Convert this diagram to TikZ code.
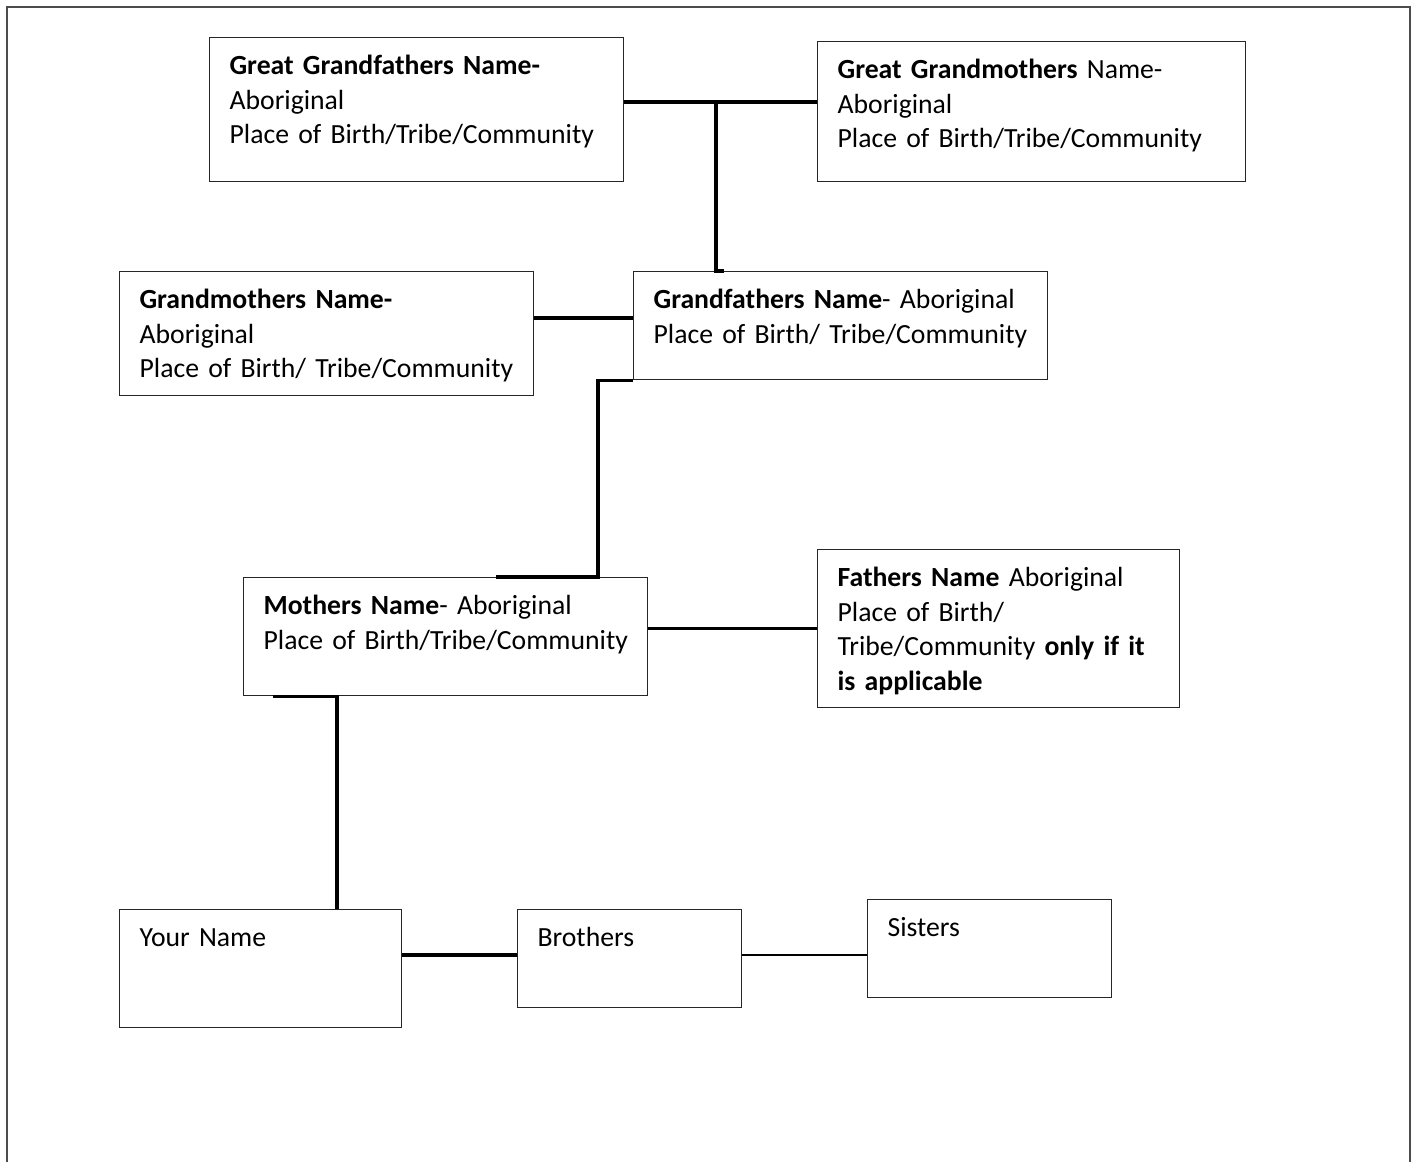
\documentclass[tikz,border=0pt]{standalone}
\usepackage{fontspec}
\setmainfont{Carlito}[WordSpace={1,0,0}]
\begin{document}
\begin{tikzpicture}[x=1pt,y=-1pt,
  member/.style={draw=black!85,line width=1.2pt,anchor=north west,align=left,
    inner xsep=0pt,inner ysep=0pt,text height=37pt,
    execute at begin node={\leftskip=20pt},
    font=\fontsize{27.7}{34.5}\selectfont},
  link/.style={draw=black,line width=3.4pt},
  thinlink/.style={draw=black,line width=1.2pt}]
\useasboundingbox (0,0) rectangle (1417,1162);
\draw[black!70,line width=2pt] (7,1162) -- (7,7) -- (1410,7) -- (1410,1162);
% great grandparents
\node[member,text width=414pt,text depth=107pt] (ggf) at (209,37)
  {\textbf{Great Grandfathers Name-}\\Aboriginal\\Place of Birth/Tribe/Community};
\node[member,text width=428pt,text depth=103pt] (ggm) at (817,41)
  {\textbf{Great Grandmothers} Name-\\Aboriginal\\Place of Birth/Tribe/Community};
% grandparents
\node[member,text width=414pt,text depth=87pt] (gm) at (119,271)
  {\textbf{Grandmothers Name-}\\Aboriginal\\Place of Birth/ Tribe/Community};
\node[member,text width=414pt,text depth=71pt] (gf) at (633,271)
  {\textbf{Grandfathers Name}- Aboriginal\\Place of Birth/ Tribe/Community};
% parents
\node[member,text width=404pt,text depth=81pt] (mum) at (243,577)
  {\textbf{Mothers Name}- Aboriginal\\Place of Birth/Tribe/Community};
\node[member,text width=362pt,text depth=121pt] (dad) at (817,549)
  {\textbf{Fathers Name} Aboriginal\\Place of Birth/\\Tribe/Community \textbf{only if it}\\\textbf{is applicable}};
% you and siblings
\node[member,text width=282pt,text depth=81pt] (you) at (119,909) {Your Name};
\node[member,text width=224pt,text depth=61pt] (bro) at (517,909) {Brothers};
\node[member,text width=244pt,text depth=61pt] (sis) at (867,899) {Sisters};
% connectors
\coordinate (ggjoin) at (716,102);
\draw[link] (ggjoin -| ggf.east) -- (ggjoin -| ggm.west);
\draw[link] (ggjoin) -- (ggjoin |- gf.north) -- ++(8,0);
\draw[link] (gm.east |- 0,318) -- (gf.west |- 0,318);
\coordinate (gfdrop) at ([xshift=-35pt]gf.south west);
\draw[link] (gf.south west) -| (gfdrop |- mum.north) -- ++(-102,0);
\draw[link] (dad.west -| mum.east) -- (dad.west);
\coordinate (youdrop) at ([xshift=94pt]mum.south west);
\draw[link] ([xshift=30pt]mum.south west) -| (youdrop |- you.north);
\draw[link] (you.east |- 0,955) -- (bro.west |- 0,955);
\draw[thinlink] (bro.east |- 0,955) -- (sis.west |- 0,955);
\end{tikzpicture}
\end{document}
